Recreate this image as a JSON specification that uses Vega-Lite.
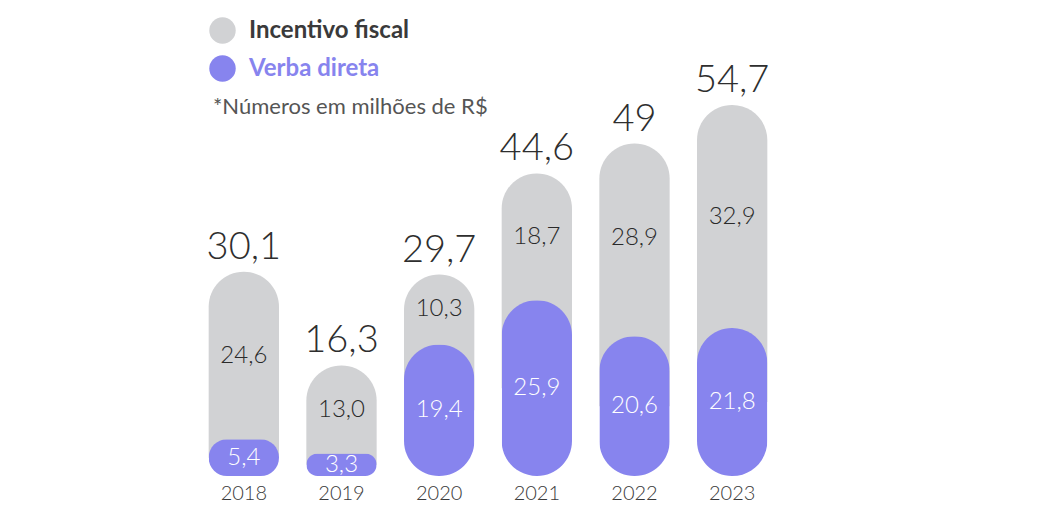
{
  "$schema": "https://vega.github.io/schema/vega-lite/v6.json",
  "width": 586,
  "height": 407,
  "autosize": {"type": "none"},
  "padding": {"left": 195, "top": 69, "right": 272, "bottom": 48},
  "background": "white",
  "config": {
    "view": {"stroke": null},
    "font": "Lato",
    "locale": {"number": {"decimal": ",", "thousands": ".", "grouping": [3], "currency": ["R$", ""]}}
  },
  "data": {
    "values": [
      {"year": "2018", "incentivo": 24.6, "verba": 5.4, "total": 30.1},
      {"year": "2019", "incentivo": 13.0, "verba": 3.3, "total": 16.3},
      {"year": "2020", "incentivo": 10.3, "verba": 19.4, "total": 29.7},
      {"year": "2021", "incentivo": 18.7, "verba": 25.9, "total": 44.6},
      {"year": "2022", "incentivo": 28.9, "verba": 20.6, "total": 49},
      {"year": "2023", "incentivo": 32.9, "verba": 21.8, "total": 54.7}
    ]
  },
  "transform": [
    {"calculate": "datum.verba / 2", "as": "verba_mid"},
    {"calculate": "datum.verba + datum.incentivo / 2", "as": "inc_mid"}
  ],
  "encoding": {
    "x": {
      "field": "year",
      "type": "ordinal",
      "scale": {"paddingInner": 0.28, "paddingOuter": 0.14},
      "axis": {
        "title": null,
        "domain": false,
        "ticks": false,
        "labelAngle": 0,
        "labelFontSize": 20,
        "labelFontWeight": 300,
        "labelColor": "#3a3a3a",
        "labelPadding": 7
      }
    }
  },
  "layer": [
    {
      "mark": {"type": "bar", "cornerRadiusTopLeft": 35, "cornerRadiusTopRight": 35},
      "encoding": {
        "y": {"field": "total", "type": "quantitative", "scale": {"domain": [0, 60]}, "axis": null},
        "y2": {"field": "verba_mid"},
        "color": {
          "datum": "Incentivo fiscal",
          "scale": {"domain": ["Incentivo fiscal", "Verba direta"], "range": ["#d1d2d4", "#8784ee"]},
          "legend": {
            "orient": "none",
            "legendX": 14,
            "legendY": -52,
            "direction": "vertical",
            "symbolType": "circle",
            "symbolSize": 700,
            "symbolStrokeWidth": 0,
            "symbolOpacity": 1,
            "labelFontSize": 24,
            "labelFontWeight": "bold",
            "labelOffset": 13,
            "labelLimit": 400,
            "rowPadding": 11,
            "title": "*Números em milhões de R$",
            "titleOrient": "bottom",
            "titleFontSize": 22,
            "titleFontWeight": "normal",
            "titleColor": "#555555",
            "titlePadding": 15,
            "titleAnchor": "start",
            "titleLimit": 500,
            "padding": 0,
            "encode": {
              "labels": {"update": {"fill": {"signal": "datum.value === 'Verba direta' ? '#8784ee' : '#3a3a3a'"}}},
              "title": {"update": {"dx": {"value": 4}}}
            }
          }
        }
      }
    },
    {
      "mark": {"type": "bar", "cornerRadius": 35},
      "encoding": {
        "y": {"field": "verba", "type": "quantitative"},
        "color": {"datum": "Verba direta"}
      }
    },
    {
      "mark": {"type": "text", "fontSize": 38, "fontWeight": 300, "color": "#2e2e2e", "baseline": "alphabetic", "dy": -13},
      "encoding": {
        "y": {"field": "total", "type": "quantitative"},
        "text": {"field": "total", "type": "quantitative", "format": ".1~f"}
      }
    },
    {
      "mark": {"type": "text", "fontSize": 24, "fontWeight": 300, "color": "#2a2a2a", "baseline": "middle"},
      "encoding": {
        "y": {"field": "inc_mid", "type": "quantitative"},
        "text": {"field": "incentivo", "type": "quantitative", "format": ".1f"}
      }
    },
    {
      "mark": {"type": "text", "fontSize": 24, "fontWeight": 300, "color": "white", "baseline": "middle"},
      "encoding": {
        "y": {"field": "verba_mid", "type": "quantitative"},
        "text": {"field": "verba", "type": "quantitative", "format": ".1f"}
      }
    }
  ]
}
